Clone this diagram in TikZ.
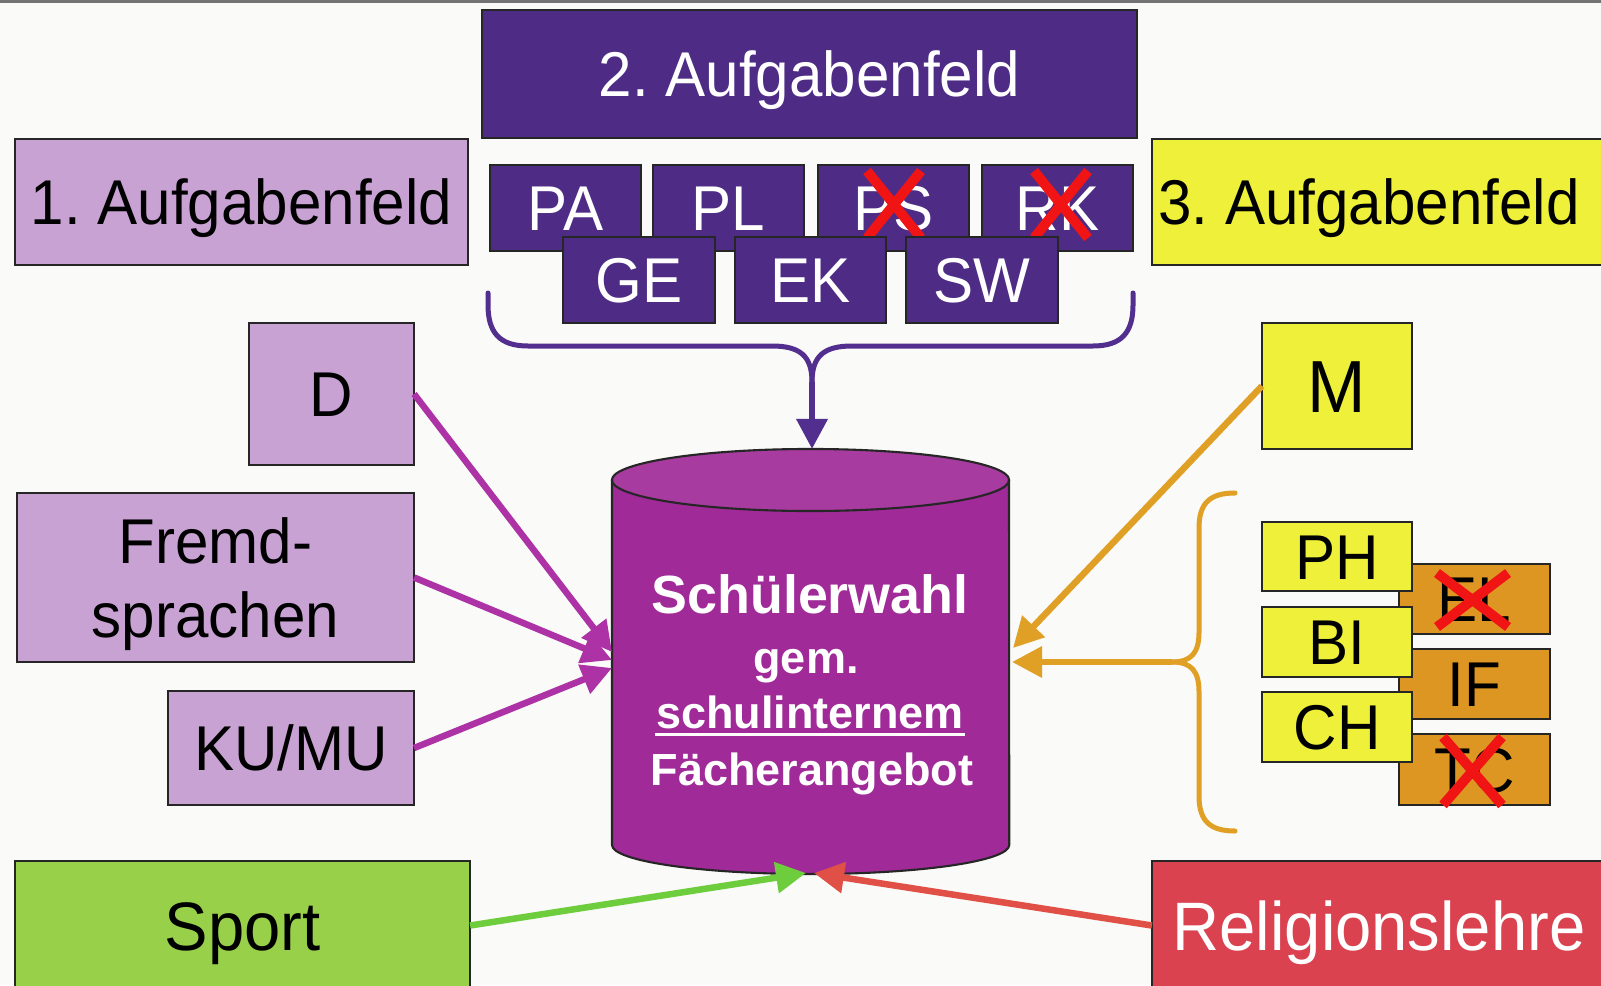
\documentclass[tikz,border=0pt]{standalone}
\usepackage{fontspec}
\setmainfont{Liberation Sans}[FakeStretch=0.95]
\newfontfamily\boldsans{Liberation Sans}
\usetikzlibrary{arrows.meta}
\frenchspacing
\definecolor{bg}{RGB}{250,250,248}
\definecolor{dpurple}{RGB}{78,44,134}
\definecolor{lilac}{RGB}{201,162,212}
\definecolor{yel}{RGB}{238,240,58}
\definecolor{orbox}{RGB}{222,150,35}
\definecolor{cylcol}{RGB}{160,42,152}
\definecolor{sportgreen}{RGB}{152,208,74}
\definecolor{religred}{RGB}{218,66,80}
\definecolor{magarr}{RGB}{172,50,166}
\definecolor{orarr}{RGB}{224,160,38}
\definecolor{bracepurple}{RGB}{82,46,142}
\definecolor{greenarr}{RGB}{110,205,60}
\definecolor{redarr}{RGB}{224,80,70}
\definecolor{crossred}{RGB}{240,20,20}
\begin{document}
\begin{tikzpicture}[x=0.01cm,y=0.01cm,
  box/.style={draw=black!85,line width=0.6pt,inner sep=0pt,outer sep=0pt,text height=12.9pt,text depth=0pt,
              font=\fontsize{18}{21}\selectfont},
  bigbox/.style={box,text height=15.1pt,font=\fontsize{21}{25}\selectfont},
  widebox/.style={box,text height=14pt,font=\fontsize{19.5}{23}\selectfont},
  sz/.style 2 args={minimum width=#1cm,minimum height=#2cm},
  cyltxt/.style={inner sep=0pt,text=white,anchor=base},
  cross/.style={draw=crossred,line width=2.8pt},
  arr/.style={line width=0.065cm,-{Triangle[length=0.3cm,width=0.3cm]}},
  bracestyle/.style={line width=0.05cm,line cap=round}]
\useasboundingbox (0,0) rectangle (1601,-985);
\fill[bg] (0,0) rectangle (1601,-985);
\fill[black!55] (0,0) rectangle (1601,-3);

% 2. Aufgabenfeld
\node[box,fill=dpurple,text=white,sz={6.55}{1.28}] (A2) at (809.5,-74) {2. Aufgabenfeld};
\node[box,fill=dpurple,text=white,sz={1.51}{0.86}] (PA) at (565.5,-208) {PA};
\node[box,fill=dpurple,text=white,sz={1.51}{0.86}] (PL) at (728.5,-208) {PL};
\node[box,fill=dpurple,text=white,sz={1.51}{0.86}] (PS) at (893.5,-208) {PS};
\node[box,fill=dpurple,text=white,sz={1.51}{0.86}] (RK) at (1057.5,-208) {RK};
\draw[cross] (867,-171) -- (921,-238) (921,-171) -- (867,-238);
\draw[cross] (1034,-171) -- (1088,-238) (1088,-171) -- (1034,-238);
\node[box,fill=dpurple,text=white,sz={1.52}{0.86}] (GE) at (639,-280) {GE};
\node[box,fill=dpurple,text=white,sz={1.51}{0.86}] (EK) at (810.5,-280) {EK};
\node[box,fill=dpurple,text=white,sz={1.52}{0.86}] (SW) at (982,-280) {SW};

% 1. Aufgabenfeld
\node[box,fill=lilac,sz={4.53}{1.26}] (A1) at (241.5,-202) {1. Aufgabenfeld};
\node[box,fill=lilac,sz={1.65}{1.42}] (D) at (331.5,-394) {D};
\node[box,fill=lilac,align=center,text height=,text depth=,sz={3.97}{1.69}] (FS) at (215.5,-577.5) {\rule{0pt}{17pt}Fremd-\\sprachen};
\node[box,fill=lilac,sz={2.46}{1.14}] (KM) at (291,-748) {KU/MU};

% 3. Aufgabenfeld
\node[box,fill=yel,sz={4.54}{1.26}] (A3) at (1379,-202) {\kern-0.2cm 3. Aufgabenfeld};
\node[bigbox,fill=yel,sz={1.50}{1.26}] (M) at (1337,-386) {M};
\node[box,fill=orbox,sz={1.51}{0.70}] (EL) at (1474.5,-599) {EL};
\node[box,fill=orbox,sz={1.51}{0.70}] (IF) at (1474.5,-684) {IF};
\node[box,fill=orbox,sz={1.51}{0.71}] (TC) at (1474.5,-769.5) {TC};
\draw[cross] (1437,-573) -- (1508,-627) (1508,-573) -- (1437,-627);
\draw[cross] (1443,-737) -- (1502,-805) (1502,-737) -- (1443,-805);
\node[box,fill=yel,sz={1.50}{0.69}] (PH) at (1337,-556.5) {PH};
\node[box,fill=yel,sz={1.50}{0.70}] (BI) at (1337,-642) {BI};
\node[box,fill=yel,sz={1.50}{0.70}] (CH) at (1337,-727) {CH};

% Sport and Religionslehre
\node[widebox,fill=sportgreen,sz={4.55}{1.29}] (SP) at (242.5,-925.5) {Sport};
\node[widebox,fill=religred,text=white,sz={4.54}{1.29}] (RL) at (1379,-925.5) {Religionslehre};

% cylinder
\node[inner sep=0pt,sz={3.97}{4.25}] (cyl) at (810.5,-661.5) {};
\fill[cylcol] (612,-480) -- (612,-845)
   arc[start angle=180,end angle=360,x radius=1.985cm,y radius=0.29cm]
   -- (1009,-480)
   arc[start angle=0,end angle=180,x radius=1.985cm,y radius=0.31cm] -- cycle;
\fill[cylcol!92!white] (810.5,-480) ellipse[x radius=1.985cm,y radius=0.31cm];
\draw[black!85,line width=0.6pt] (612,-480) -- (612,-845)
   arc[start angle=180,end angle=360,x radius=1.985cm,y radius=0.29cm]
   -- (1009,-480);
\draw[black!85,line width=0.6pt] (810.5,-480) ellipse[x radius=1.985cm,y radius=0.31cm];
\node[cyltxt,font=\boldsans\bfseries\fontsize{15.3}{18}\selectfont] (t1) at (810,-613) {Schülerwahl};
\node[cyltxt,font=\boldsans\bfseries\fontsize{12.8}{15}\selectfont] (t2) at (806,-673) {gem.};
\node[cyltxt,font=\boldsans\bfseries\fontsize{12.8}{15}\selectfont] (t3) at (810,-728) {schulinternem};
\draw[white,line width=0.85pt] ([yshift=-0.06cm]t3.base west) -- ([yshift=-0.06cm]t3.base east);
\node[cyltxt,font=\boldsans\bfseries\fontsize{12.8}{15}\selectfont] (t4) at (812,-785) {Fächerangebot};

% target coordinates on the cylinder
\coordinate (cTop) at (812,-449);
\coordinate (cL1) at (612,-652);
\coordinate (cL2) at (612,-660);
\coordinate (cL3) at (612,-668);
\coordinate (cR1) at (1013,-648);
\coordinate (cR2) at (1012,-662);
\coordinate (cB1) at (806,-873);
\coordinate (cB2) at (814,-873);

% top brace
\draw[bracestyle,bracepurple] (488,-293) -- (488,-305)
   .. controls (488,-333) and (500,-346) .. (528,-346) -- (772,-346)
   .. controls (800,-346) and (812,-356) .. (812,-382) coordinate (btip);
\draw[bracestyle,bracepurple] (1133,-293) -- (1133,-305)
   .. controls (1133,-333) and (1121,-346) .. (1093,-346) -- (852,-346)
   .. controls (824,-346) and (812,-356) .. (812,-382);
\draw[arr,bracepurple] (btip) -- (cTop);

% right brace
\draw[bracestyle,orarr] (1235,-493) .. controls (1210,-493) and (1199,-503) .. (1199,-528)
   -- (1199,-632) .. controls (1199,-652) and (1192,-662) .. (1172,-662) coordinate (otip);
\draw[bracestyle,orarr] (1235,-831) .. controls (1210,-831) and (1199,-821) .. (1199,-796)
   -- (1199,-692) .. controls (1199,-672) and (1192,-662) .. (1172,-662);
\draw[arr,orarr] (otip) -- (cR2);
\draw[arr,orarr] (M.west) -- (cR1);

% left arrows
\draw[arr,magarr] (D.east) -- (cL1);
\draw[arr,magarr] (FS.east) -- (cL2);
\draw[arr,magarr] (KM.east) -- (cL3);

% bottom arrows
\draw[arr,greenarr] (SP.east) -- (cB1);
\draw[arr,redarr] (RL.west) -- (cB2);
\end{tikzpicture}
\end{document}
